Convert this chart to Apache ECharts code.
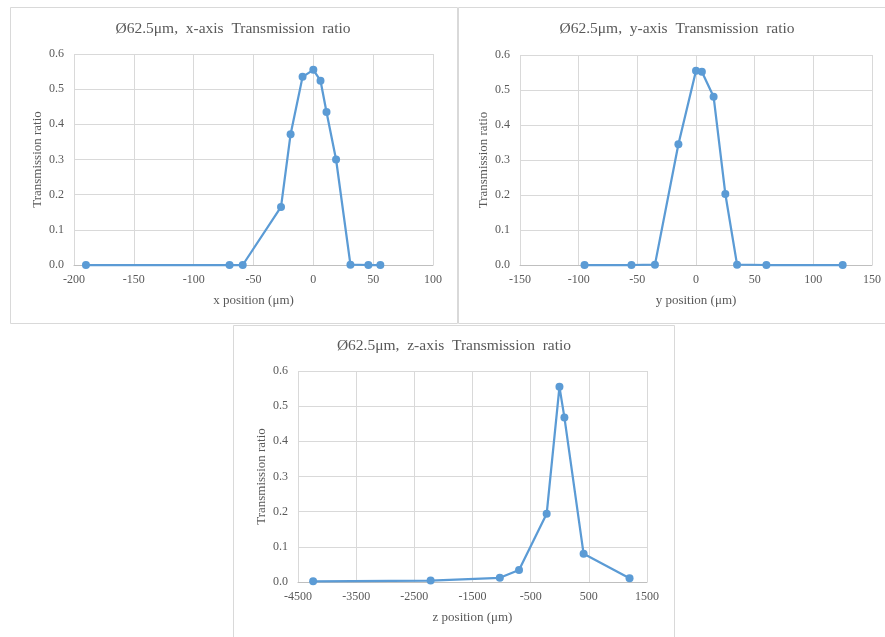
<!DOCTYPE html>
<html>
<head>
<meta charset="utf-8">
<script src="https://cdn.jsdelivr.net/npm/echarts@6/dist/echarts.min.js"></script>
<style>
  html, body { margin: 0; padding: 0; background: #fff; }
  #chart { width: 885px; height: 637px; }
</style>
</head>
<body>
<div id="chart"></div>
<script>
// x-axis scan
const xPos = [-190, -70, -59, -27, -19, -9, 0, 6, 11, 19, 31, 46, 56];
const xRatio = [0, 0, 0, 0.165, 0.372, 0.535, 0.555, 0.524, 0.435, 0.300, 0.001, 0, 0];
// y-axis scan
const yPos = [-95, -55, -35, -15, 0, 5, 15, 25, 35, 60, 125];
const yRatio = [0, 0, 0.001, 0.345, 0.555, 0.552, 0.481, 0.203, 0.001, 0, 0];
// z-axis scan
const zPos = [-4240, -2220, -1030, -700, -225, -5, 80, 410, 1200];
const zRatio = [0.002, 0.004, 0.012, 0.034, 0.194, 0.555, 0.468, 0.080, 0.011];

const titles = ['Ø62.5μm,  x-axis  Transmission  ratio', 'Ø62.5μm,  y-axis  Transmission  ratio', 'Ø62.5μm,  z-axis  Transmission  ratio'];
const axisNames = ['x position (μm)', 'y position (μm)', 'z position (μm)'];

const font = 'Liberation Serif';
const textColor = '#595959';
const lineColor = '#5B9BD5';

function pairs(xs, ys) {
    return xs.map((v, i) => [v, ys[i]]);
}

const grids = [
    { left: 74, top: 54, width: 359, height: 211 },
    { left: 520, top: 55, width: 352, height: 210 },
    { left: 298, top: 371, width: 349, height: 211 }
];
const xRanges = [[-200, 100, 50], [-150, 150, 50], [-4500, 1500, 1000]];

const xAxes = xRanges.map((r, i) => ({
    type: 'value',
    gridIndex: i,
    min: r[0], max: r[1], interval: r[2],
    name: axisNames[i],
    nameLocation: 'middle',
    nameGap: 29,
    nameTextStyle: { fontFamily: font, fontSize: 13, color: textColor },
    axisLine: { show: true, lineStyle: { color: '#BFBFBF' } },
    axisTick: { show: false },
    splitLine: { show: true, lineStyle: { color: '#D9D9D9' } },
    axisLabel: { fontFamily: font, fontSize: 12, color: textColor, margin: 9, formatter: v => String(v) }
}));

const yAxes = [0, 1, 2].map(i => ({
    type: 'value',
    gridIndex: i,
    min: 0, max: 0.6, interval: 0.1,
    name: 'Transmission ratio',
    nameLocation: 'middle',
    nameGap: 30,
    nameRotate: 90,
    nameTextStyle: { fontFamily: font, fontSize: 13, color: textColor },
    axisLine: { show: false },
    axisTick: { show: false },
    splitLine: { show: true, lineStyle: { color: '#D9D9D9' } },
    axisLabel: {
        fontFamily: font, fontSize: 12, color: textColor, margin: 10,
        formatter: v => v.toFixed(1)
    }
}));

const seriesData = [pairs(xPos, xRatio), pairs(yPos, yRatio), pairs(zPos, zRatio)];

const panels = [
    { x: 10, y: 7, w: 447, h: 316 },
    { x: 458, y: 7, w: 440, h: 316 },
    { x: 233, y: 325, w: 441, h: 330 }
];

echarts.init(document.getElementById('chart')).setOption({
    animation: false,
    backgroundColor: '#fff',
    graphic: panels.map(p => ({
        type: 'rect',
        shape: { x: p.x + 0.5, y: p.y + 0.5, width: p.w, height: p.h },
        style: { fill: 'none', stroke: '#D9D9D9', lineWidth: 1 },
        z: -1
    })),
    title: [
        { text: titles[0], left: 233, top: 21 },
        { text: titles[1], left: 677, top: 21 },
        { text: titles[2], left: 454, top: 338 }
    ].map(t => Object.assign(t, {
        textAlign: 'center',
        padding: 0,
        textStyle: { fontFamily: font, fontSize: 15.5, fontWeight: 'normal', color: textColor }
    })),
    grid: grids,
    xAxis: xAxes,
    yAxis: yAxes,
    series: seriesData.map((d, i) => ({
        type: 'line',
        xAxisIndex: i,
        yAxisIndex: i,
        data: d,
        symbol: 'circle',
        symbolSize: 8,
        lineStyle: { color: lineColor, width: 2.25 },
        itemStyle: { color: lineColor },
        clip: false
    }))
});
</script>
</body>
</html>
